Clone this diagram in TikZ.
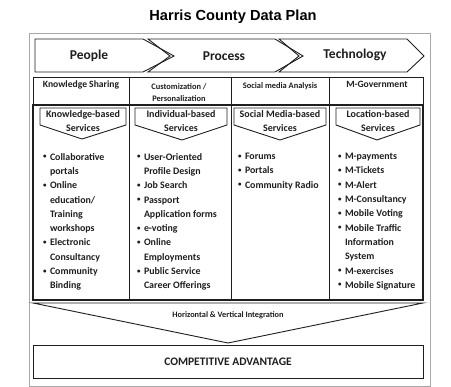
\documentclass[tikz,border=0pt]{standalone}
\usepackage{fontspec}
\setmainfont{Carlito}
\newfontfamily\titlefont{Liberation Sans}
\newcommand{\bul}{\makebox[6.8pt][l]{\raisebox{0.3ex}{\scalebox{0.7}{\textbullet}}}}
\newcommand{\ind}{\hspace*{6.8pt}}
\definecolor{ink}{HTML}{1E1E1E}
\definecolor{frame}{HTML}{A8A8A8}
\tikzset{
  ln/.style={draw=ink, line width=0.9pt, line join=miter},
  thick ln/.style={draw=ink, line width=1.3pt},
  chev/.style={font=\fontsize{13.5}{14}\selectfont\bfseries, text=ink, inner sep=0pt},
  head/.style={font=\fontsize{9.6}{11}\selectfont\bfseries, text=ink, inner sep=0pt, align=center},
  small head/.style={font=\fontsize{8.4}{12}\selectfont\bfseries, text=ink, inner sep=0pt, align=center},
  pent/.style={font=\fontsize{10}{14}\selectfont\bfseries, text=ink, inner sep=0pt, align=center},
  list/.style={font=\fontsize{9.9}{14.3}\selectfont\bfseries, text=ink, inner sep=0pt, align=left, anchor=north west},
}
\begin{document}
\begin{tikzpicture}[x=1pt,y=-1pt]
\useasboundingbox (0,0) rectangle (451,387);
% title
\node[font=\titlefont\fontsize{14.6}{16}\selectfont\bfseries, inner sep=0pt] (title) at (233,16.5) {Harris County Data Plan};
% outer frame
\draw[frame, line width=0.9pt] (29,33) rectangle (430,386);
% chevrons
\draw[ln] (35,39) -- (143,39) -- (174,56) -- (143,72) -- (35,72) -- cycle;
\draw[ln] (148,39) -- (275,39) -- (303,56) -- (275,72) -- (148,72) -- (170,56) -- cycle;
\draw[ln] (279,39) -- (407,39) -- (424,56) -- (407,72) -- (279,72) -- (299,56) -- cycle;
\node[chev] (people) at (89,56) {People};
\node[chev] (process) at (224,56) {Process};
\node[chev] (tech) at (355,55) {Technology};
% header row
\draw[ln] (33,77) rectangle (423,105);
\foreach \x in {129,231,329} \draw[ln] (\x,77) -- (\x,105);
\node[head] (h1) at (81,85) {Knowledge Sharing};
\node[small head] (h2) at (179,93) {Customization /\\Personalization};
\node[small head] (h3) at (280,86) {Social media Analysis};
\node[head] (h4) at (377,84.5) {M-Government};
% body row
\draw[thick ln] (33,105) rectangle (423,300);
\foreach \x in {129,231,329} \draw[ln] (\x,105) -- (\x,300);
% pentagons
\draw[ln] (40,108) -- (126,108) -- (126,125) -- (82,139) -- (40,125) -- cycle;
\draw[ln] (135,108) -- (227,108) -- (227,125) -- (182,140) -- (135,125) -- cycle;
\draw[ln] (234,108) -- (326,108) -- (326,125) -- (280,140) -- (234,125) -- cycle;
\draw[ln] (336,108) -- (420,108) -- (420,125) -- (377,140) -- (336,125) -- cycle;
\node[pent] (p1) at (83,121) {Knowledge-based\\Services};
\node[pent] (p2) at (181,121) {Individual-based\\Services};
\node[pent] (p3) at (280,121) {Social Media-based\\Services};
\node[pent] (p4) at (378,121) {Location-based\\Services};
% lists
\node[list] (l1) at (43,153) {\bul Collaborative\\ \ind portals\\ \bul Online\\ \ind education/\\ \ind Training\\ \ind workshops\\ \bul Electronic\\ \ind Consultancy\\ \bul Community\\ \ind Binding};
\node[list] (l2) at (137,153) {\bul User-Oriented\\ \ind Profile Design\\ \bul Job Search\\ \bul Passport\\ \ind Application forms\\ \bul e-voting\\ \bul Online\\ \ind Employments\\ \bul Public Service\\ \ind Career Offerings};
\node[list] (l3) at (238,153) {\bul Forums\\ \bul Portals\\ \bul Community Radio};
\node[list] (l4) at (338,153) {\bul M-payments\\ \bul M-Tickets\\ \bul M-Alert\\ \bul M-Consultancy\\ \bul Mobile Voting\\ \bul Mobile Traffic\\ \ind Information\\ \ind System\\ \bul M-exercises\\ \bul Mobile Signature};
% integration
\draw[ln] (33,303) -- (423,303) -- (228,343) -- cycle;
\node[font=\fontsize{8.3}{10}\selectfont\bfseries, text=ink, inner sep=0pt] (integ) at (228,315) {Horizontal \& Vertical Integration};
% competitive advantage
\draw[ln] (33,345) rectangle (423,378);
\node[font=\fontsize{11.5}{13}\selectfont\bfseries, text=ink, inner sep=0pt] (comp) at (228,361.5) {COMPETITIVE ADVANTAGE};
\end{tikzpicture}
\end{document}
